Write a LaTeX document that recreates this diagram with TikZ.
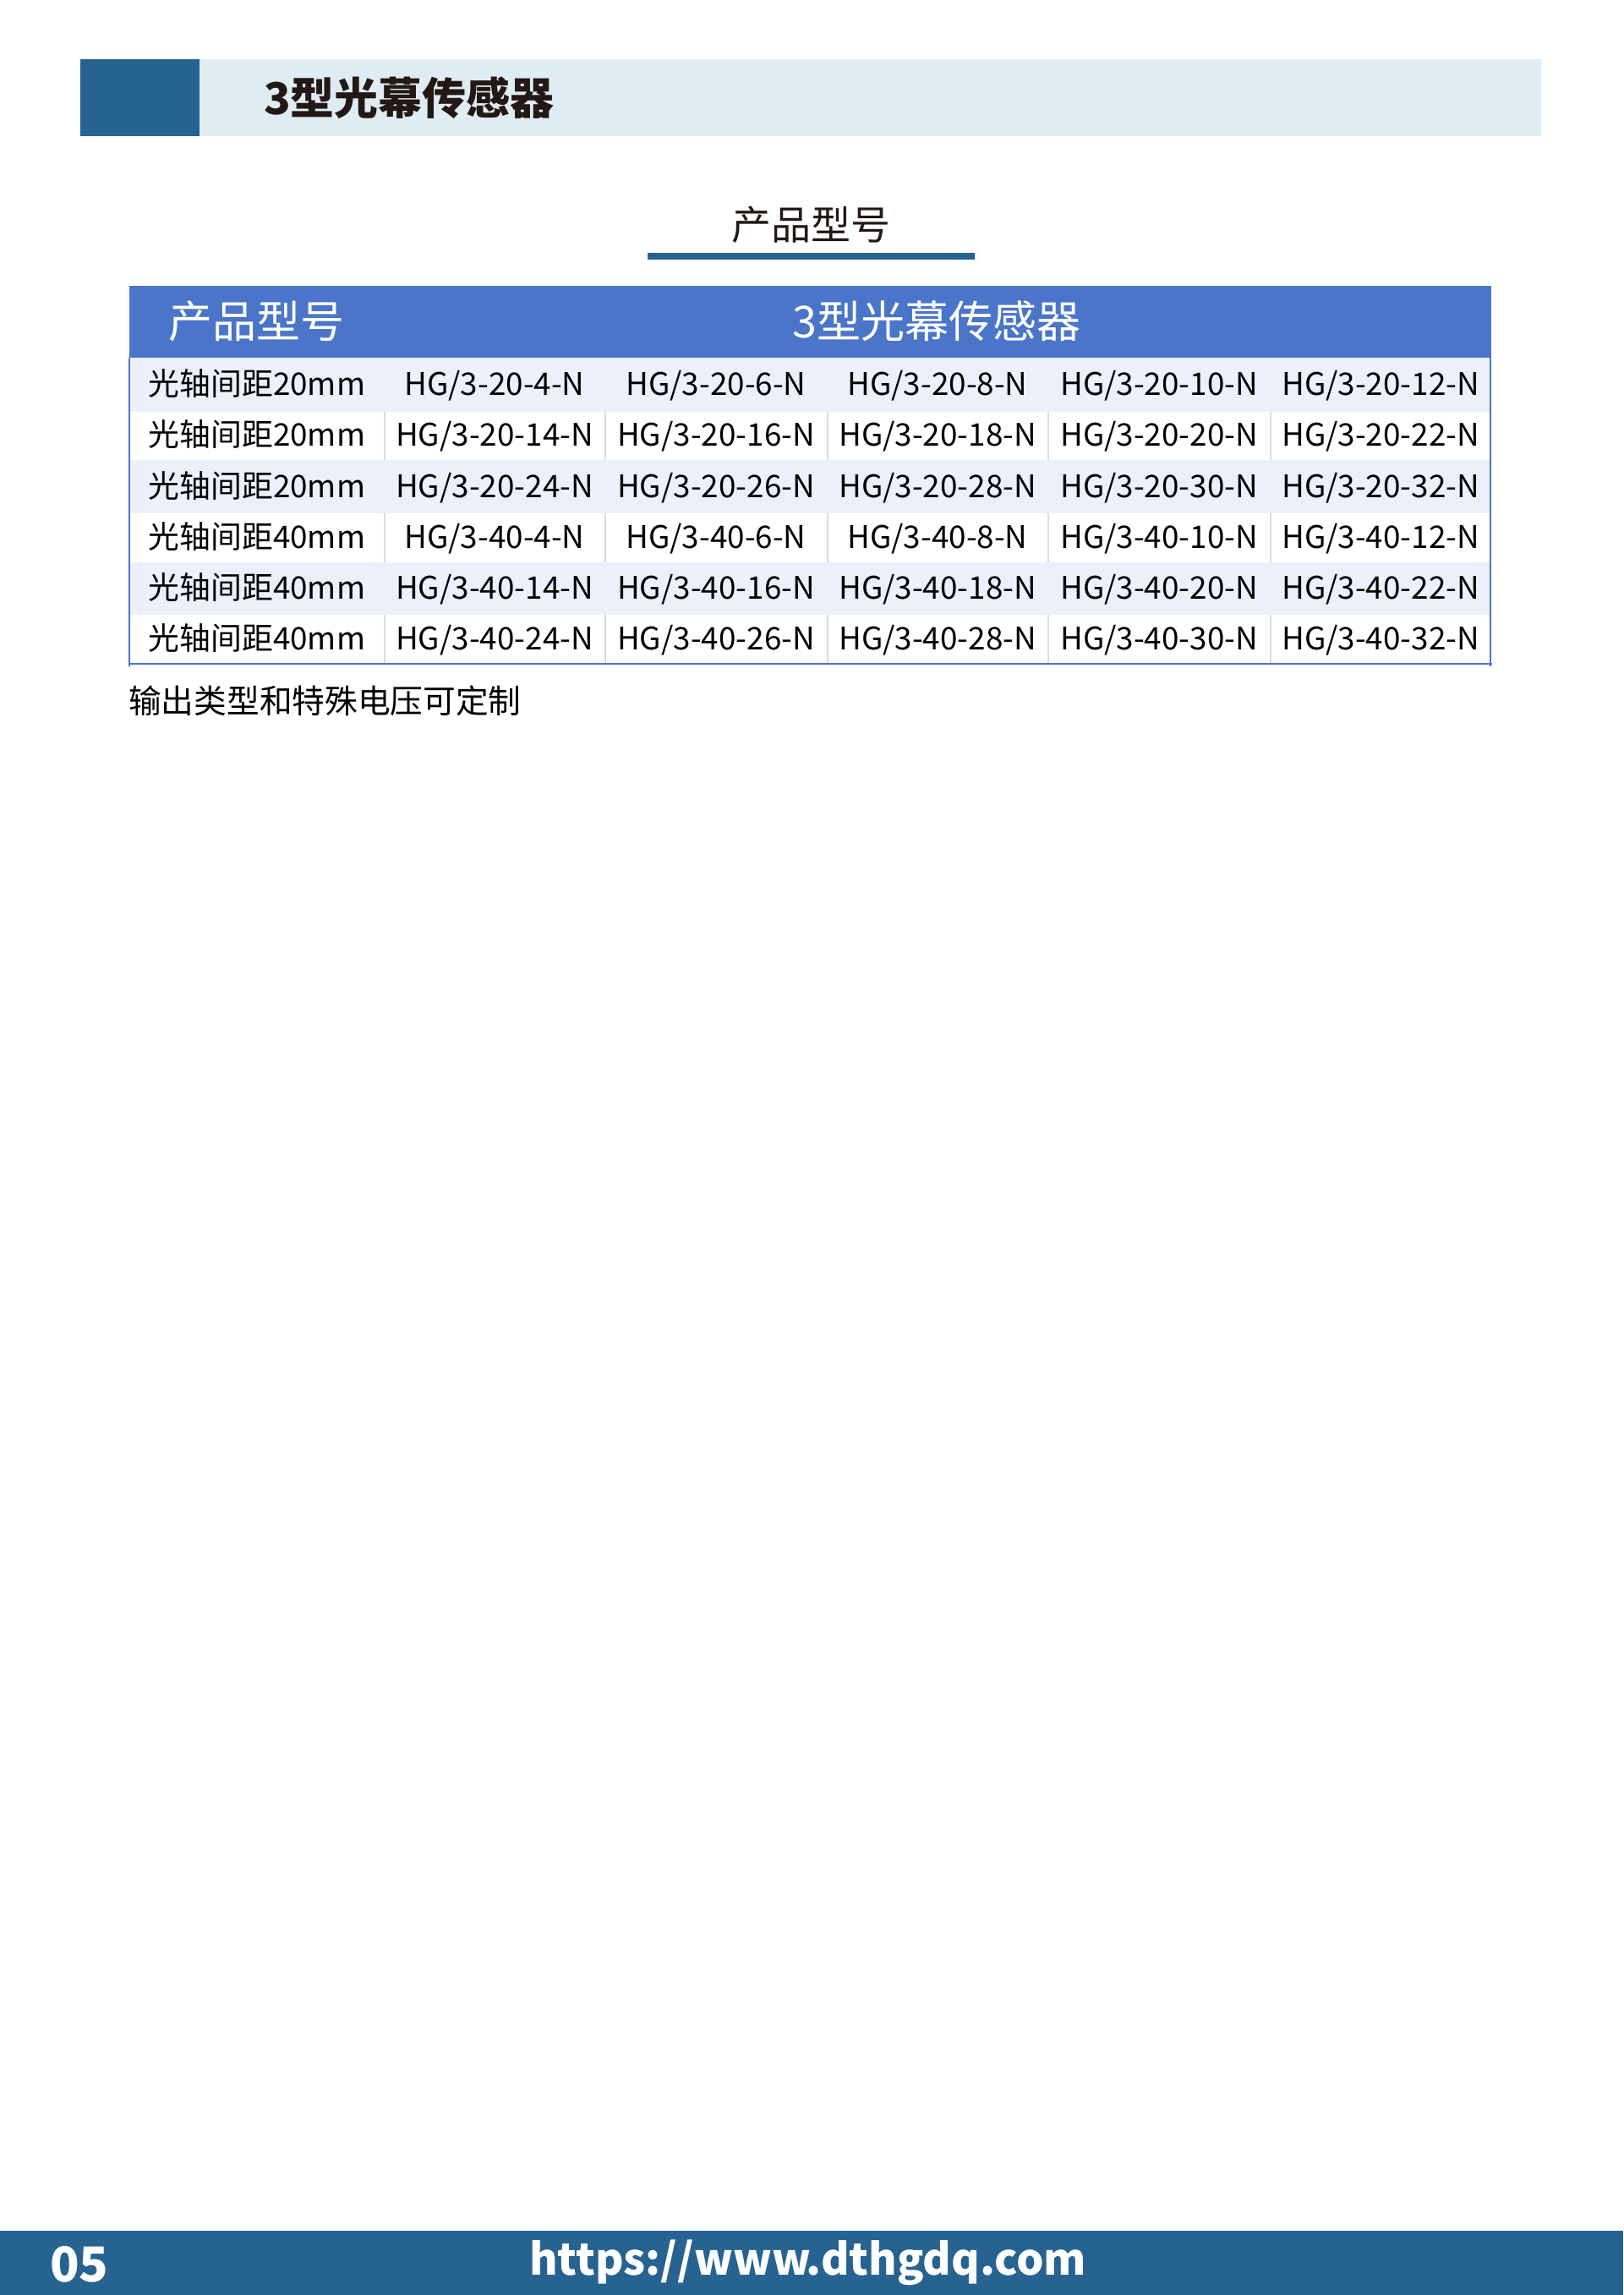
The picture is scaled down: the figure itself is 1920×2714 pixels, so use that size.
\documentclass[tikz,border=0pt]{standalone}
\usepackage{fontspec}
\setmainfont{Noto Sans CJK SC}
\definecolor{barblue}{HTML}{266390}
\definecolor{barlight}{HTML}{E0ECF4}
\definecolor{headblue}{HTML}{4A75C9}
\definecolor{rowblue}{HTML}{EBF0FA}
\definecolor{ink}{HTML}{231815}
\definecolor{sepgray}{HTML}{DCDCDC}
\tikzset{
  celltext/.style={anchor=base,inner sep=0pt,font=\fontsize{36.8}{42}\selectfont},
  headtext/.style={anchor=base,inner sep=0pt,text=white,font=\fontsize{52}{58}\selectfont}
}
\begin{document}
\begin{tikzpicture}[x=1pt,y=-1pt]
                \useasboundingbox (0,0) rectangle (1920,2714);
                % top bar
                \fill[barblue] (95,70) rectangle (236,161);
                \fill[barlight] (236,70) rectangle (1823,161);
                \node[anchor=base west,inner sep=0pt,text=ink,font=\bfseries\fontsize{52}{58}\selectfont] (title) at (312,135) {3型光幕传感器};
                % subtitle
                \node[anchor=base,inner sep=0pt,text=ink,font=\fontsize{47}{52}\selectfont] (subtitle) at (959,283) {产品型号};
                \fill[barblue] (766,299) rectangle (1153,307);
                % table head and rows
                \fill[headblue] (153,338) rectangle (1764,423);
                \foreach \a/\b in {423/487,544/607,665/727}
                \fill[rowblue] (153,\a) rectangle (1764,\b);
                \foreach \a/\b in {487/544,607/665,727/785}
                \foreach \x in {455,716,979,1240,1503}
                \draw[sepgray,line width=2pt] (\x,\a) -- (\x,\b);
                \draw[headblue,line width=2pt] (153,423) -- (153,788) (1763,423) -- (1763,788) (152,785) -- (1765,785);
                \node[headtext] (headL) at (303,399) {产品型号};
                \node[headtext] (headR) at (1108,399) {3型光幕传感器};
                % cells
                \foreach \s/\y [count=\i] in {20/455,20/515,20/576,40/636,40/696,40/756} {
                  \node[celltext] (label-\i) at (304,\y+12.5) {光轴间距\s mm};
                  \foreach \cx [count=\j] in {585,847,1109,1371,1633} {
                    \pgfmathtruncatemacro{\n}{4+10*mod(\i-1,3)+2*(\j-1)}
                    \node[celltext] (cell-\i-\j) at (\cx,\y+12.5) {HG/3-\s-\n-N};
                  }
                }
                \node[anchor=base west,inner sep=0pt,font=\fontsize{38.7}{44}\selectfont] (note) at (152,843) {输出类型和特殊电压可定制};
                % footer
                \fill[barblue] (0,2638) rectangle (1920,2714);
                \node[anchor=base west,inner sep=0pt,text=white,font=\bfseries\fontsize{57}{62}\selectfont] (pagenum) at (59,2698) {05};
                \node[anchor=base west,inner sep=0pt,text=white,font=\bfseries\fontsize{51.2}{58}\selectfont] (url) at (626,2690) {https://www.dthgdq.com};
\end{tikzpicture}
\end{document}
